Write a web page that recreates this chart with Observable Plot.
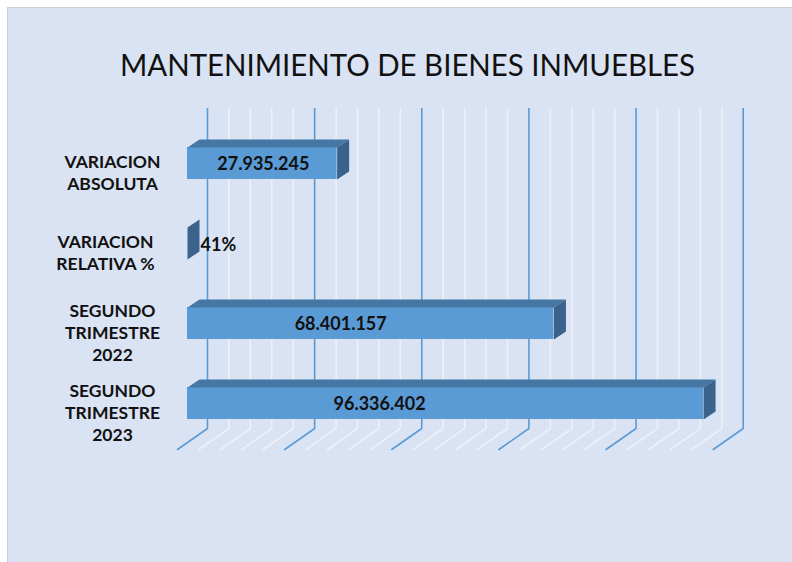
<!DOCTYPE html>
<html>
<head>
<meta charset="utf-8">
<script src="https://cdn.jsdelivr.net/npm/d3@7"></script>
<script src="https://cdn.jsdelivr.net/npm/@observablehq/plot@0.6"></script>
<style>
  html, body { margin: 0; padding: 0; background: #ffffff; }
  #wrap { position: relative; width: 792px; height: 562px; overflow: hidden; }
  #area { position: absolute; left: 7px; top: 7px; width: 790px; height: 560px;
          background: #dae3f3; border-left: 1px solid #d0d0d0; border-top: 1px solid #d0d0d0; }
  #chart { position: absolute; left: 0; top: 0; }
</style>
</head>
<body>
<div id="wrap"><div id="area"></div><div id="chart"></div></div>
<script>
const title = "MANTENIMIENTO DE BIENES INMUEBLES";
const categories = ["VARIACION ABSOLUTA", "VARIACION RELATIVA %", "SEGUNDO TRIMESTRE 2022", "SEGUNDO TRIMESTRE 2023"];
const categoryLabels = ["VARIACION\nABSOLUTA", "VARIACION\nRELATIVA %", "SEGUNDO\nTRIMESTRE\n2022", "SEGUNDO\nTRIMESTRE\n2023"];
const values = [27935245, 0.41, 68401157, 96336402];
const valueLabels = ["27.935.245", "41%", "68.401.157", "96.336.402"];
const majorTicks = [0, 20000000, 40000000, 60000000, 80000000, 100000000];

const minorTicks = d3.range(0, 100000001, 4000000).filter(t => t % 20000000 !== 0);
const rows = categories.map((c, i) => ({category: c, label: categoryLabels[i], value: values[i], valueLabel: valueLabels[i], i}));

const frontColor = "#5b9bd5", topColor = "#4676a4", sideColor = "#3a628c";
const majorColor = "#5b9bd5", minorColor = "#edf0f6";

const floorShape = {draw(ctx) { ctx.moveTo(0, 0); ctx.lineTo(-30, 21); }};
const topShape = {draw(ctx, l) { ctx.moveTo(-l, -16); ctx.lineTo(0, -16); ctx.lineTo(12, -24); ctx.lineTo(-l + 12, -24); ctx.closePath(); }};
const sideShape = {draw(ctx) { ctx.moveTo(0, -16); ctx.lineTo(12, -24); ctx.lineTo(12, 8); ctx.lineTo(0, 16); ctx.closePath(); }};

const labelShift = [1, 0, -30, -66];

const plot = Plot.plot({
  width: 792,
  height: 562,
  marginTop: 108,
  marginBottom: 134,
  marginLeft: 187,
  marginRight: 69,
  style: {background: "transparent", fontFamily: "Lato, 'Open Sans', sans-serif"},
  x: {domain: [0, 100000000], range: [187, 722.7], axis: null},
  y: {type: "band", domain: categories, range: [123, 443], paddingInner: 0.6, paddingOuter: 0.3, align: 0.5, axis: null},
  length: {type: "linear", domain: [0, 100000000], range: [0, 535.7]},
  marks: [
    Plot.ruleX(minorTicks, {x: d => d, dx: 20, stroke: minorColor, strokeWidth: 1.6}),
    Plot.vector(minorTicks, {x: d => d, frameAnchor: "bottom", dx: 20, shape: floorShape, anchor: "start", stroke: minorColor, strokeWidth: 1.6}),
    Plot.ruleX(majorTicks, {x: d => d, dx: 20, stroke: majorColor, strokeWidth: 1.6}),
    Plot.vector(majorTicks, {x: d => d, frameAnchor: "bottom", dx: 20, shape: floorShape, anchor: "start", stroke: majorColor, strokeWidth: 1.6}),
    Plot.barX(rows, {x: "value", y: "category", fill: frontColor}),
    Plot.vector(rows, {x: "value", y: "category", length: "value", shape: topShape, anchor: "start", fill: topColor, stroke: "none"}),
    Plot.vector(rows, {x: "value", y: "category", shape: sideShape, anchor: "start", fill: sideColor, stroke: "none"}),
    ...rows.filter(d => d.value >= 1).map(d => Plot.text([d], {x: r => r.value / 2, y: "category", text: "valueLabel", dx: labelShift[d.i], dy: 1, fontSize: 18, fontWeight: "bold", fill: "#111"})),
    Plot.text(rows.filter(d => d.value < 1), {x: "value", y: "category", text: "valueLabel", textAnchor: "start", dx: 13, dy: 2, fontSize: 18, fontWeight: "bold", fill: "#111"}),
    Plot.text(rows.filter(d => d.i !== 1), {y: "category", text: "label", frameAnchor: "left", textAnchor: "middle", dx: -75, dy: 8, fontSize: 17.5, fontWeight: "bold", lineHeight: 22 / 17.5, fill: "#111"}),
    Plot.text(rows.filter(d => d.i === 1), {y: "category", text: "label", frameAnchor: "left", textAnchor: "middle", dx: -82, dy: 8, fontSize: 17.5, fontWeight: "bold", lineHeight: 22 / 17.5, fill: "#111"}),
    Plot.text([title], {frameAnchor: "top", lineAnchor: "middle", dx: -48, dy: -42, fontSize: 31, fontWeight: 400, fill: "#111", className: "chart-title"})
  ]
});
const t = plot.querySelector(".chart-title text") || Array.from(plot.querySelectorAll("text")).find(e => e.textContent === title);
if (t) { t.setAttribute("textLength", 575); t.setAttribute("lengthAdjust", "spacingAndGlyphs"); }
document.getElementById("chart").appendChild(plot);
</script>
</body>
</html>
